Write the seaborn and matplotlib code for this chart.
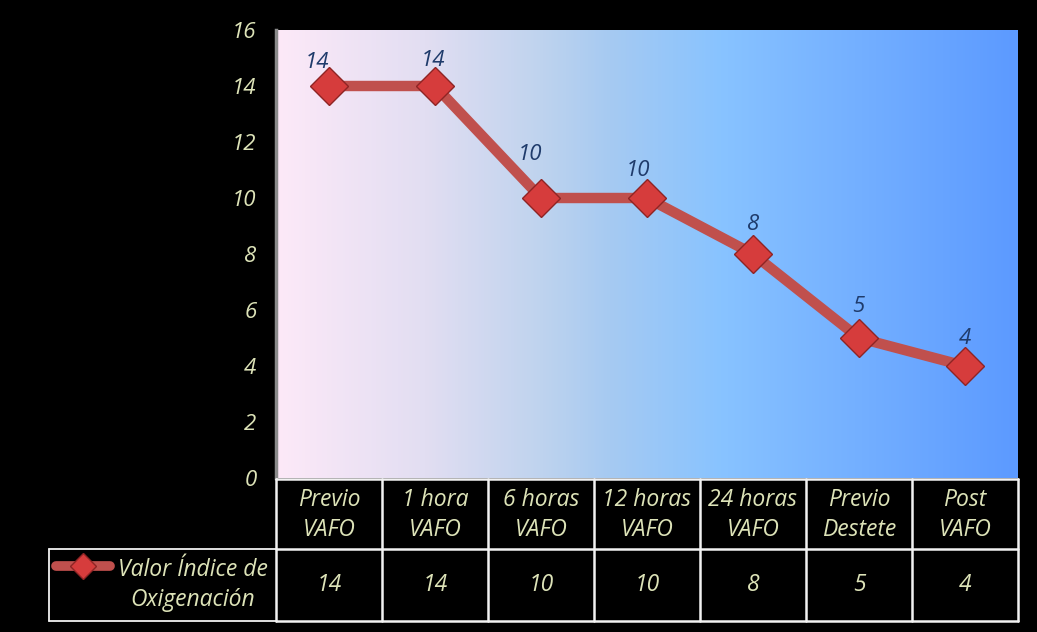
import numpy as np
import pandas as pd
import matplotlib
matplotlib.use("Agg")
import matplotlib.pyplot as plt
import matplotlib.transforms as mtransforms
from matplotlib.colors import LinearSegmentedColormap
import seaborn as sns

# data
categories = ["Previo\nVAFO", "1 hora\nVAFO", "6 horas\nVAFO", "12 horas\nVAFO",
              "24 horas\nVAFO", "Previo\nDestete", "Post\nVAFO"]
values = [14, 14, 10, 10, 8, 5, 4]
series_name = "Valor Índice de\nOxigenación"
y_ticks = [0, 2, 4, 6, 8, 10, 12, 14, 16]

W, H = 1037, 632
sns.set_style("white")
plt.rcParams["font.family"] = ["Open Sans", "DejaVu Sans"]

cream = "#DDE3B8"
label_blue = "#1F3B6B"
line_red = "#C0504D"
marker_red = "#D63C3C"

fig = plt.figure(figsize=(W / 100, H / 100), dpi=100, facecolor="black")

# plot area in pixels: x 276..1018, y 30..478
ax = fig.add_axes([276 / W, (H - 478) / H, 742 / W, 448 / H])
ax.set_xlim(-0.5, len(categories) - 0.5)
ax.set_ylim(0, 16)

grad = LinearSegmentedColormap.from_list(
    "bg", [(0.0, "#FDE9F8"), (0.2, "#E2DEF2"), (0.36, "#BED3EE"),
           (0.45, "#A6CAF2"), (0.6, "#88C3FF"), (0.8, "#72AEFF"), (1.0, "#5C9AFF")])
ax.imshow(np.linspace(0, 1, 256).reshape(1, -1), cmap=grad, aspect="auto",
          extent=(-0.5, len(categories) - 0.5, 0, 16), zorder=0)

df = pd.DataFrame({"x": np.arange(len(categories)), "y": values})
sns.lineplot(data=df, x="x", y="y", ax=ax, color=line_red, linewidth=7.5,
             marker="D", markersize=19, markerfacecolor=marker_red,
             markeredgecolor="#8E2424", markeredgewidth=1, zorder=3)

# label nudges in pixels, as placed in the original
nudges = [(-12, 24), (-2, 25), (-11, 43), (-9, 28), (0, 30), (-1, 31), (0, 28)]
for i, v in enumerate(values):
    ax.annotate(str(v), (i, v), xytext=nudges[i], textcoords="offset pixels",
                ha="center", va="center", fontsize=16, style="italic",
                color=label_blue, zorder=4)

ax.set_yticks(y_ticks)
ax.set_yticklabels([str(t) for t in y_ticks], fontsize=16, style="italic", color=cream)
ax.tick_params(axis="y", length=0, pad=14)
ax.set_xticks([])
ax.set_xlabel("")
ax.set_ylabel("")
for s in ["top", "right", "bottom"]:
    ax.spines[s].set_visible(False)
ax.spines["left"].set_color("#8A8A8A")
ax.spines["left"].set_linewidth(2.5)

# data table below the plot
tab = fig.add_axes([0, 0, 1, 1], facecolor="none")
tab.set_xlim(0, W)
tab.set_ylim(H, 0)
tab.axis("off")
bt = mtransforms.blended_transform_factory(ax.transData, tab.transData)

n = len(categories)
row_top, row_mid, row_bot = 479, 549, 621
leg_left = 49
edge = "#F2F2F2"
# horizontal lines
tab.plot([-0.5, n - 0.5], [row_top, row_top], color=edge, lw=1.8, transform=bt)
tab.plot([-0.5, n - 0.5], [row_mid, row_mid], color=edge, lw=1.8, transform=bt)
tab.plot([-0.5, n - 0.5], [row_bot, row_bot], color=edge, lw=1.8, transform=bt)
tab.plot([leg_left, 276], [row_mid, row_mid], color=edge, lw=1.3)
tab.plot([leg_left, 276], [row_bot, row_bot], color=edge, lw=1.3)
tab.plot([leg_left, leg_left], [row_mid, row_bot], color=edge, lw=1.3)
# vertical lines
for b in np.arange(n + 1) - 0.5:
    tab.plot([b, b], [row_top, row_bot], color=edge, lw=1.8, transform=bt)

for i, (c, v) in enumerate(zip(categories, values)):
    tab.text(i, (row_top + row_mid) / 2 + 1, c, transform=bt, ha="center",
             va="center", fontsize=16.5, style="italic", color=cream,
             linespacing=1.35)
    tab.text(i, (row_mid + row_bot) / 2, str(v), transform=bt, ha="center",
             va="center", fontsize=16.5, style="italic", color=cream)

# legend key in the table
tab.plot([56, 110], [566, 566], color=line_red, lw=7, solid_capstyle="round")
tab.plot([83], [566], marker="D", markersize=13, color=marker_red,
         markeredgecolor="#8E2424", markeredgewidth=1)
tab.text(193, (row_mid + row_bot) / 2, series_name, ha="center", va="center",
         fontsize=16.5, style="italic", color=cream, linespacing=1.35)

fig.savefig("out.png", dpi=100, facecolor="black")
